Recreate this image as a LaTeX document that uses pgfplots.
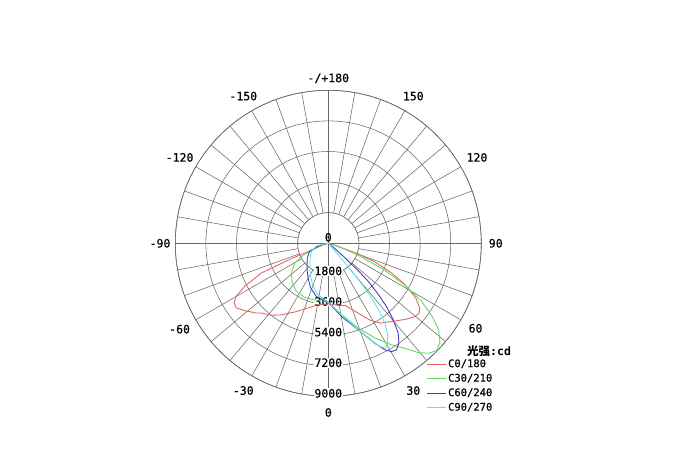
\documentclass[border=0pt]{standalone}
\usepackage{pgfplots}
\pgfplotsset{compat=1.18}
\usepgfplotslibrary{polar}
\usepackage{pgfplotstable}
\usepackage{fontspec}
\setmainfont{DejaVu Sans}
\setmonofont{DejaVu Sans Mono}
\newfontfamily\labfont{DejaVu Sans Mono}[FakeBold=0.5]
\newfontfamily\cjk{Noto Sans CJK SC}

\definecolor{cRed}{RGB}{232,95,95}
\definecolor{cGreen}{RGB}{90,220,90}
\definecolor{cBlue}{RGB}{70,55,175}
\definecolor{cCyan}{RGB}{90,230,235}
\definecolor{gridc}{RGB}{105,105,105}

\pgfplotstableread{
g I
-90 0
-75 300
-70 700
-67.6 1000
-67.5 2350
-66.1 4300
-62.8 5530
-60.1 6250
-57.7 6560
-54.9 6610
-51.2 6320
-46 5900
-43.9 5690
-38.4 5400
-33.3 5040
-26.1 4500
-17.5 3990
-9.6 3660
0 3560
9.2 3690
15.5 3800
23 4450
28.5 5150
33 5600
39.5 5950
45.5 6380
49.8 6680
52.3 6740
54.7 6600
58.1 6050
61.7 5120
64.9 4110
68.2 2960
70.4 1870
71.2 1040
74 400
90 0
}\redtab

\pgfplotstableread{
g I
-90 0
-75 350
-68.7 860
-64.7 1650
-59.7 2290
-51.3 2790
-42.2 3150
-33.7 3390
-23.7 3470
-13.6 3430
0 3450
10.5 4260
19.4 5280
26.2 6200
31.9 7040
36.1 7650
39.5 8330
42.3 8750
45.3 8970
48.4 8780
51.9 8250
54.8 7480
58.1 6460
61.3 5140
64.5 3690
68.2 1900
71 900
75 300
90 0
}\greentab

\pgfplotstableread{
g I
-90 0
-78 300
-73.8 630
-66.8 1200
-55.1 1510
-40.9 1920
-30.4 2360
-21.6 2820
-12.8 3200
-3.7 3380
0 3480
10.3 4380
19.1 5390
25 6490
28 7100
30.3 7380
32.6 7440
35.2 7200
37.9 6700
40.3 5910
42.6 5060
44.5 4150
46.5 3200
47.5 2400
49.5 1100
52 300
90 0
}\bluetab

\pgfplotstableread{
g I
-90 0
-80 350
-77 720
-64.8 1100
-48.3 1440
-33.2 1970
-22.4 2520
-13.6 3000
-4.4 3320
0 3480
10.5 4290
17.7 5150
22.8 6060
26.6 6790
28.6 7030
30.7 6840
32.9 6420
35.3 5770
37 5000
38.5 4000
39.5 3000
40 2000
40.5 1000
41 300
90 0
}\cyantab

\begin{document}
\begin{tikzpicture}
\useasboundingbox[fill=white] (0,0) rectangle (700bp,462bp);
\begin{polaraxis}[
  at={(328.3bp,218.7bp)}, anchor=center,
  width=306bp, height=306bp, scale only axis,
  ymin=0, ymax=9000,
  xtick={0,10,...,350},
  ytick={1800,3600,5400,7200,9000},
  xticklabels={}, yticklabels={},
  major tick length=0pt,
  grid=major,
  major grid style={gridc, line width=0.55bp},
  axis line style={gridc, line width=0.6bp},
  clip=false,
  legend style={at={(0.821,0.127)}, anchor=north west, draw=none, fill=none,
    font=\labfont\fontsize{10.5bp}{12bp}\selectfont, row sep=1.5bp, inner sep=0pt,
    nodes={inner sep=1.5bp, text height=8bp, text depth=2bp}},
  legend cell align=left,
  legend image code/.code={\draw[#1, line width=0.8bp] (0bp,0bp) -- (15bp,0bp); \path (0bp,0bp) -- (19bp,0bp);},
]
\fill[white] (axis cs:0,0) circle[radius=30.6bp];
\draw[gridc, line width=0.55bp] (axis cs:0,0) circle[radius=30.6bp];
\draw[gridc, line width=0.55bp] (axis cs:0,9000) -- (axis cs:180,9000);
\draw[gridc, line width=0.55bp] (axis cs:90,9000) -- (axis cs:270,9000);

\tikzset{rl/.style={fill=white, inner sep=0.6bp, yshift=3bp, font=\labfont\fontsize{11.5bp}{12bp}\selectfont}}
\tikzset{al/.style={inner sep=0pt, font=\labfont\fontsize{11.5bp}{12bp}\selectfont}}
\node[rl, fill=none, yshift=3bp] at (axis cs:-90,0) {0};
\node[rl] at (axis cs:-90,1800) {1800};
\node[rl] at (axis cs:-90,3600) {3600};
\node[rl] at (axis cs:-90,5400) {5400};
\node[rl] at (axis cs:-90,7200) {7200};
\node[rl] at (axis cs:-90,9000) {9000};

\node[al] at (axis cs:-90,9950) {0};
\node[al] at (axis cs:-60,10000) {30};
\node[al] at (axis cs:-30,10000) {60};
\node[al] at (axis cs:0,9850) {90};
\node[al] at (axis cs:30,10100) {120};
\node[al] at (axis cs:60,10000) {150};
\node[al] at (axis cs:90,9700) {-/+180};
\node[al] at (axis cs:120,10000) {-150};
\node[al] at (axis cs:150,10100) {-120};
\node[al] at (axis cs:180,9900) {-90};
\node[al] at (axis cs:210,10100) {-60};
\node[al] at (axis cs:240,10000) {-30};

\addplot[cRed, line width=0.85bp, no markers] table[x expr=\thisrow{g}-90, y=I] {\redtab};
\addlegendentry{C0/180}
\addplot[cGreen, line width=0.85bp, no markers] table[x expr=\thisrow{g}-90, y=I] {\greentab};
\addlegendentry{C30/210}
\addplot[cBlue, line width=0.85bp, no markers] table[x expr=\thisrow{g}-90, y=I] {\bluetab};
\addlegendentry{C60/240}
\addplot[cCyan, line width=0.85bp, no markers] table[x expr=\thisrow{g}-90, y=I] {\cyantab};
\addlegendentry{C90/270}
\end{polaraxis}
\node[anchor=west, inner sep=0pt] at (467bp,111bp) {\fontsize{11.5bp}{12bp}\selectfont\bfseries{\cjk 光强}\ttfamily:cd};
\end{tikzpicture}
\end{document}
